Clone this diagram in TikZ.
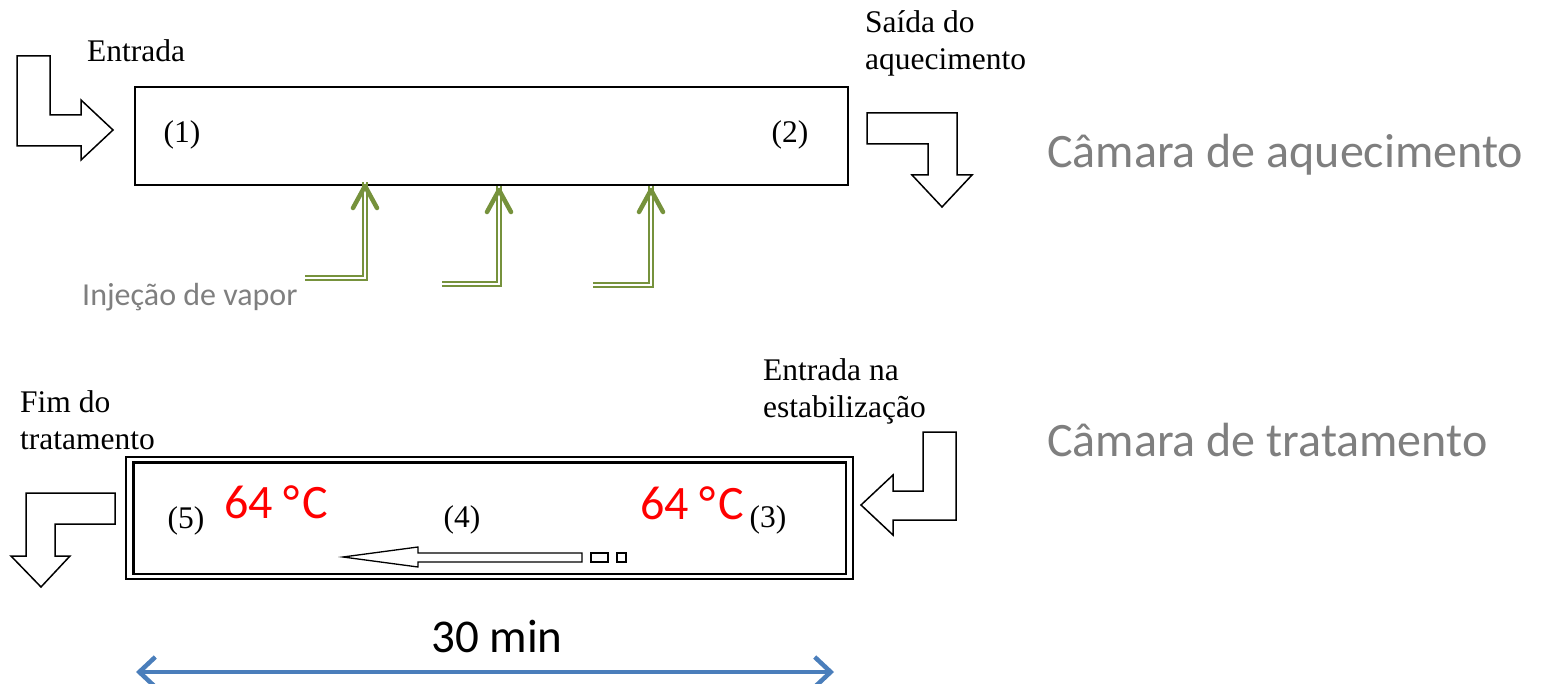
\documentclass[tikz,border=0pt]{standalone}
\usepackage{fontspec}
\setmainfont{Liberation Serif}
\newfontfamily\calibri{Carlito}
\usetikzlibrary{arrows.meta}

\definecolor{verde}{RGB}{118,146,60}
\definecolor{cinza}{RGB}{127,127,127}
\definecolor{azul}{RGB}{74,126,187}

\begin{document}
\begin{tikzpicture}[x=1pt, y=-1pt,
  rotulo/.style={font=\fontsize{31.5}{37}\selectfont, inner sep=0pt},
  camara/.style={font=\calibri\fontsize{48}{54}\selectfont, text=cinza, anchor=west, inner sep=0pt},
  temp/.style={font=\calibri\fontsize{48}{54}\selectfont, text=red, anchor=west, inner sep=0pt},
  bent/.style={draw, fill=white, line width=1.5pt, line join=miter},
  vaporline/.style={draw=verde, double=white, line width=1.8pt, double distance=1.8pt},
  vaporhead/.style={draw=verde, line width=4.5pt, line cap=round, line join=round},
]
\useasboundingbox (0,0) rectangle (1541,684);

% camara de aquecimento
\node[draw, line width=1.5pt, minimum width=713pt, minimum height=98pt, inner sep=0pt] (aquec) at (491.5,136) {};
\node[rotulo] (p1) at (182,135) {(1)};
\node[rotulo] (p2) at (790,135) {(2)};
\node[rotulo, anchor=base west] (entrada) at (87,62) {Entrada};
\node[rotulo, anchor=base west, align=left] (saida) at (865,70) {Saída do\\aquecimento};
\node[camara] (cam1) at (1047,155) {Câmara de aquecimento};

\draw[bent] (17,56) -- (50,56) -- (50,115) -- (81,115) -- (81,100) -- (113,130)
  -- (81,160) -- (81,146) -- (17,146) -- cycle;
\draw[bent] (867,113) -- (957,113) -- (957,175) -- (972,175) -- (942,207)
  -- (912,175) -- (928,175) -- (928,144) -- (867,144) -- cycle;

% injecao de vapor
\coordinate (v1) at (305,278); \coordinate (t1) at (365,186);
\coordinate (v2) at (442,284); \coordinate (t2) at (499,190);
\coordinate (v3) at (593,285); \coordinate (t3) at (651,190);
\foreach \i in {1,2,3} {
  \draw[vaporline] (v\i) -| ([yshift=4pt]t\i);
  \draw[vaporhead] (t\i) ++(-12,22) -- (t\i) -- ++(12,22);
}
\node[font=\calibri\fontsize{32}{38}\selectfont, text=cinza, anchor=west, inner sep=0pt] (vapor) at (82,297) {Injeção de vapor};

% camara de tratamento
\node[draw, line width=1.5pt, minimum width=727pt, minimum height=122pt, inner sep=0pt] (trat) at (489.5,518) {};
\draw[line width=2.5pt] ([shift={(8,6)}]trat.north west) rectangle ([shift={(-8,-6)}]trat.south east);
\node[rotulo] (p5) at (186,521) {(5)};
\node[rotulo] (p4) at (462,520) {(4)};
\node[rotulo] (p3) at (768,520) {(3)};
\node[temp] (temp1) at (224,502) {64 °\kern3ptC};
\node[temp] (temp2) at (640,503) {64 °\kern3ptC};
\node[rotulo, anchor=base west, align=left] (estab) at (763,417) {Entrada na\\estabilização};
\node[rotulo, anchor=base west, align=left] (fim) at (20,449) {Fim do\\tratamento};
\node[camara] (cam2) at (1047,440) {Câmara de tratamento};

\draw[bent] (923,432) -- (956,432) -- (956,520) -- (893,520) -- (893,535) -- (861,505)
  -- (893,475) -- (893,491) -- (923,491) -- cycle;
\draw[bent] (115,493) -- (115,524) -- (55,524) -- (55,556) -- (70,556) -- (41,587)
  -- (11,556) -- (26,556) -- (26,493) -- cycle;

\draw[line width=1.3pt, line join=miter] (343,557) -- (418,547) -- (418,553) -- (582,553)
  -- (582,562) -- (418,562) -- (418,567) -- cycle;
\draw[line width=1.3pt] (591,553) rectangle (608,562) (617,553) rectangle (626,562);

% tempo de retencao
\node[font=\calibri\fontsize{47}{52}\selectfont, inner sep=0pt] (tempo) at (497,636) {30 min};
\coordinate (ini) at (136,672);
\coordinate (fim) at (834,672);
\draw[azul, line width=4.5pt, {Straight Barb[length=16pt, width=30pt]}-{Straight Barb[length=16pt, width=30pt]}] (ini) -- (fim);
\end{tikzpicture}
\end{document}
